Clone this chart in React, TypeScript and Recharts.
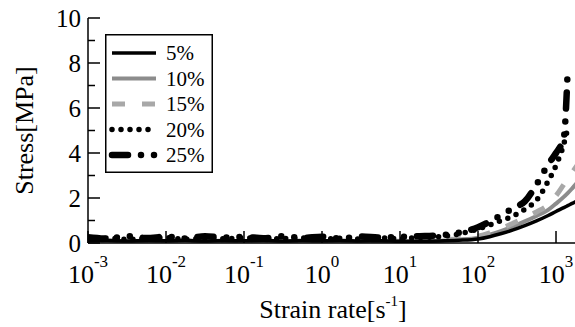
import React from 'react';
import { LineChart, Line, XAxis, YAxis, Legend, Label } from 'recharts';

const FONT = "'Liberation Serif', 'Times New Roman', serif";

const strainRate = [0.001, 0.00178, 0.00316, 0.00562, 0.01, 0.0178, 0.0316, 0.0562, 0.1, 0.178, 0.316, 0.562, 1, 1.78, 3.16, 5.62, 10, 17.8, 31.6, 56.2, 100, 141, 200, 282, 398, 562, 794, 1000, 1259, 1413, 1585, 1995];
const stress5 = [0.1, 0.12, 0.09, 0.11, 0.1, 0.12, 0.09, 0.11, 0.1, 0.12, 0.09, 0.11, 0.1, 0.11, 0.09, 0.1, 0.08, 0.08, 0.09, 0.12, 0.18, 0.28, 0.42, 0.58, 0.77, 0.98, 1.22, 1.4, 1.57, 1.66, 1.75, 1.92];
const stress10 = [0.05, 0.04, 0.06, 0.05, 0.04, 0.06, 0.05, 0.04, 0.06, 0.05, 0.04, 0.06, 0.05, 0.04, 0.06, 0.05, 0.06, 0.07, 0.1, 0.15, 0.24, 0.37, 0.54, 0.74, 0.96, 1.2, 1.47, 1.75, 2.05, 2.22, 2.4, 2.8];
const stress15 = [0.06, 0.08, 0.05, 0.07, 0.06, 0.08, 0.05, 0.07, 0.06, 0.08, 0.05, 0.07, 0.06, 0.08, 0.05, 0.07, 0.08, 0.1, 0.13, 0.19, 0.3, 0.45, 0.65, 0.88, 1.12, 1.38, 1.7, 2.1, 2.6, 2.85, 3.1, 3.6];
const stress20 = [0.18, 0.22, 0.16, 0.2, 0.24, 0.17, 0.21, 0.19, 0.23, 0.17, 0.2, 0.22, 0.18, 0.21, 0.17, 0.22, 0.2, 0.24, 0.28, 0.4, 0.62, 0.8, 1.0, 1.2, 1.5, 1.9, 2.75, 3.45, 4.4, 5.1, null, null];
const stress25 = [0.26, 0.2, 0.3, 0.22, 0.28, 0.2, 0.3, 0.24, 0.27, 0.21, 0.3, 0.23, 0.28, 0.2, 0.29, 0.24, 0.27, 0.3, 0.34, 0.45, 0.7, 0.95, 1.25, 1.55, 1.85, 2.6, 3.5, 4.0, 4.7, 7.7, null, null];

const seriesNames = ['5%', '10%', '15%', '20%', '25%'];
const xTicks = [0.001, 0.01, 0.1, 1, 10, 100, 1000];
const yTicks = [0, 1, 2, 3, 4, 5, 6, 7, 8, 9, 10];
const xTitle = 'Strain rate[s';
const xTitleSup = '-1';
const yTitle = 'Stress[MPa]';

const data = strainRate.map((r, i) => ({
  rate: r,
  s5: stress5[i],
  s10: stress10[i],
  s15: stress15[i],
  s20: stress20[i],
  s25: stress25[i],
}));

const styles = [
  { key: 's5', stroke: '#000', width: 3.5, dash: undefined as string | undefined, cap: 'butt' },
  { key: 's10', stroke: '#8c8c8c', width: 4, dash: undefined, cap: 'butt' },
  { key: 's15', stroke: '#a8a8a8', width: 5, dash: '13 17', cap: 'butt' },
  { key: 's20', stroke: '#000', width: 5.5, dash: '0 9', cap: 'round' },
  { key: 's25', stroke: '#000', width: 6.5, dash: '16 13 0 13 0 13', cap: 'round' },
];

const LeftTick = (props: any) => {
  const { x, y, payload } = props;
  const major = payload.value % 2 === 0;
  return (
    <g>
      <line x1={x} x2={x + (major ? 12 : 7)} y1={y} y2={y} stroke="#000" strokeWidth={1.5} />
      {major && (
        <text x={x - 7} y={y + 8.5} textAnchor="end" fontSize={25} fontFamily={FONT} fill="#000">
          {payload.value}
        </text>
      )}
    </g>
  );
};

const RightTick = (props: any) => {
  const { x, y, payload } = props;
  const major = payload.value % 2 === 0;
  return <line x1={x} x2={x - (major ? 12 : 6)} y1={y} y2={y} stroke="#000" strokeWidth={1.5} />;
};

const BottomTick = (props: any) => {
  const { x, y, payload } = props;
  const exp = String(Math.round(Math.log10(payload.value)));
  return (
    <g>
      <line x1={x} x2={x} y1={y} y2={y - 12} stroke="#000" strokeWidth={1.5} />
      <text x={x} y={y + 40} textAnchor="middle" fontFamily={FONT} fill="#000">
        <tspan fontSize={26}>10</tspan>
        <tspan fontSize={17} dy={-16}>{exp}</tspan>
      </text>
    </g>
  );
};

const TopTick = (props: any) => {
  const { x, y } = props;
  return <line x1={x} x2={x} y1={y} y2={y + 12} stroke="#000" strokeWidth={1.5} />;
};

const XTitle = (props: any) => {
  const vb = props.viewBox;
  const cx = vb.x + vb.width / 2;
  return (
    <text x={cx} y={vb.y + 75} textAnchor="middle" fontFamily={FONT} fill="#000">
      <tspan fontSize={26}>{xTitle}</tspan>
      <tspan fontSize={15} dy={-12}>{xTitleSup}</tspan>
      <tspan fontSize={26} dy={12}>]</tspan>
    </text>
  );
};

const YTitle = (props: any) => {
  const vb = props.viewBox;
  const cy = vb.y + vb.height / 2;
  const cx = 33;
  return (
    <text x={cx} y={cy} textAnchor="middle" fontSize={26} fontFamily={FONT} fill="#000" transform={`rotate(-90 ${cx} ${cy})`}>
      {yTitle}
    </text>
  );
};

const LegendBox = () => (
  <svg width={108} height={139} style={{ display: 'block' }}>
    <rect x={0.75} y={0.75} width={106.5} height={137.5} fill="#fff" stroke="#000" strokeWidth={1.5} />
    {seriesNames.map((n, i) => {
      const s = styles[i];
      const cy = 19 + i * 25.5;
      return (
        <g key={n}>
          <line x1={7} x2={51} y1={cy} y2={cy} stroke={s.stroke} strokeWidth={s.width} strokeDasharray={s.dash} strokeLinecap={s.cap as any} />
          <text x={61} y={cy + 7} fontSize={21} fontFamily={FONT} fill="#000">{n}</text>
        </g>
      );
    })}
  </svg>
);

export default function App() {
  return (
    <div style={{ position: 'absolute', left: 0, top: 0, width: 575, height: 327, overflow: 'hidden', background: '#fff' }}>
      <LineChart width={580} height={327} data={data} margin={{ top: 18, right: 2, left: 0, bottom: 0 }}>
        <XAxis
          xAxisId="bottom"
          dataKey="rate"
          type="number"
          scale="log"
          domain={[0.001, 1914]}
          allowDataOverflow
          ticks={xTicks}
          height={84}
          tickSize={0}
          tickMargin={0}
          tickLine={false}
          axisLine={{ stroke: '#000', strokeWidth: 1.5 }}
          tick={<BottomTick />}
          interval={0}
        >
          <Label content={<XTitle />} />
        </XAxis>
        <XAxis
          xAxisId="top"
          orientation="top"
          dataKey="rate"
          type="number"
          scale="log"
          domain={[0.001, 1914]}
          allowDataOverflow
          ticks={xTicks}
          height={0}
          tickSize={0}
          tickMargin={0}
          tickLine={false}
          axisLine={{ stroke: '#000', strokeWidth: 1.5 }}
          tick={<TopTick />}
          interval={0}
        />
        <YAxis
          yAxisId="left"
          type="number"
          domain={[0, 10]}
          ticks={yTicks}
          width={88}
          tickSize={0}
          tickMargin={0}
          tickLine={false}
          axisLine={{ stroke: '#000', strokeWidth: 1.5 }}
          tick={<LeftTick />}
          interval={0}
          allowDataOverflow
        >
          <Label content={<YTitle />} />
        </YAxis>
        <YAxis
          yAxisId="right"
          orientation="right"
          type="number"
          domain={[0, 10]}
          ticks={yTicks}
          width={0}
          tickSize={0}
          tickMargin={0}
          tickLine={false}
          axisLine={{ stroke: '#000', strokeWidth: 1.5 }}
          tick={<RightTick />}
          interval={0}
        />
        {[1, 2, 0, 3, 4].map((i) => {
          const s = styles[i];
          return (
            <Line
              key={s.key}
              xAxisId="bottom"
              yAxisId="left"
              dataKey={s.key}
              name={seriesNames[i]}
              type="monotone"
              stroke={s.stroke}
              strokeWidth={s.width}
              strokeDasharray={s.dash}
              strokeLinecap={s.cap as any}
              dot={false}
              activeDot={false}
              isAnimationActive={false}
            />
          );
        })}
        <Legend
          layout="vertical"
          align="center"
          verticalAlign="middle"
          wrapperStyle={{ left: 105, top: 34, width: 108, height: 139 }}
          content={<LegendBox />}
        />
      </LineChart>
    </div>
  );
}
